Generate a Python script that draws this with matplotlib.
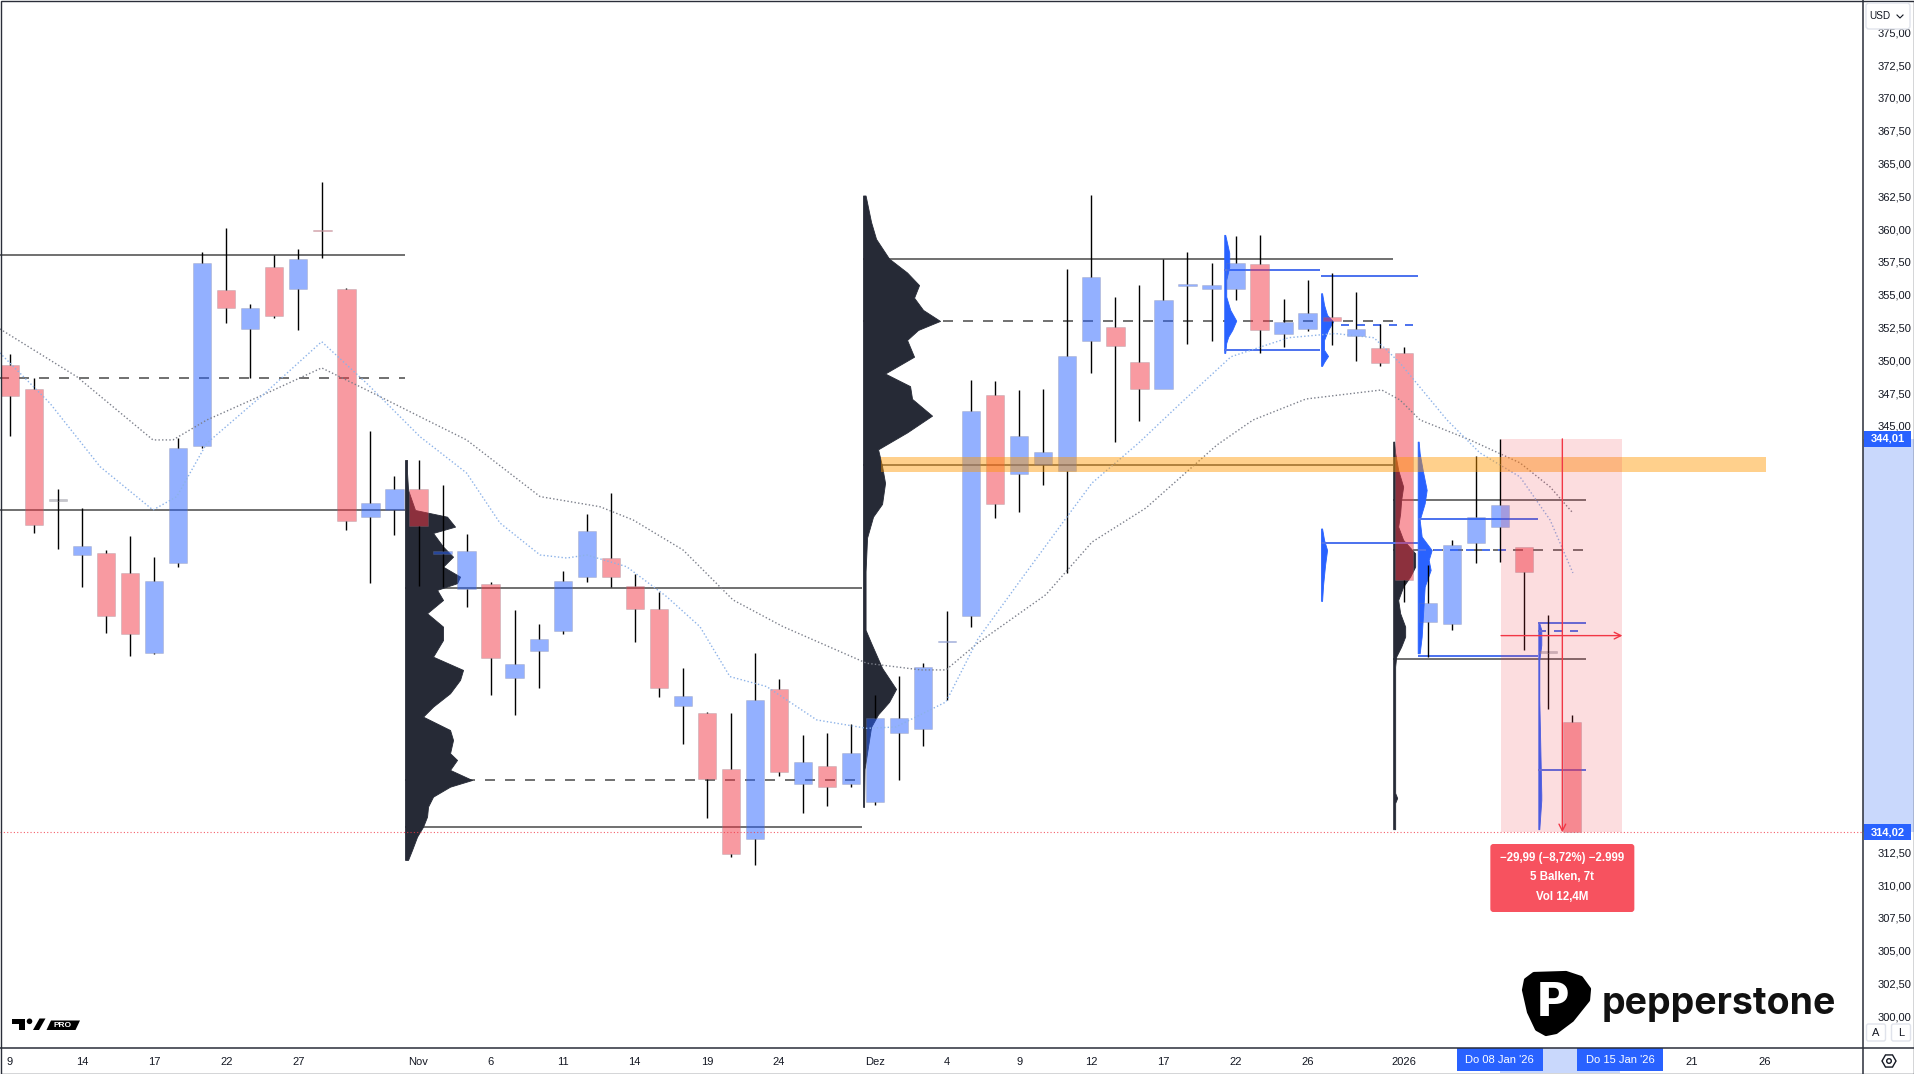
import numpy as np
import matplotlib
matplotlib.use("Agg")
import matplotlib.pyplot as plt
from matplotlib.patches import Rectangle, FancyBboxPatch, Polygon, Circle, RegularPolygon

plt.rcParams['font.family'] = ['Liberation Sans', 'DejaVu Sans']

W, H, DPI = 1914, 1074, 100

# ---------------- data ----------------
opens = [349.64, 347.79, 339.27, 335.16, 335.29, 333.77, 327.67, 334.53, 343.47, 355.36,
         352.37, 357.09, 355.41, 359.90, 355.41, 338.08, 338.59, 340.17, 335.20, 332.57,
         332.93, 325.77, 327.87, 329.39, 333.51, 334.91, 332.82, 331.02, 323.68, 323.10,
         318.83, 313.52, 324.93, 317.71, 319.10, 317.71, 316.34, 321.63, 321.89, 328.50,
         330.48, 347.32, 341.35, 341.99, 341.55, 351.46, 352.52, 349.86, 347.80, 355.68,
         355.41, 355.47, 357.33, 352.04, 352.36, 353.28, 351.88, 350.96, 350.54, 330.03,
         329.88, 336.10, 337.27, 335.75, 327.70, 322.46]
highs = [350.49, 348.63, 340.17, 338.72, 335.54, 336.61, 335.03, 344.06, 358.28, 360.06,
         354.30, 358.03, 358.49, 363.57, 355.50, 344.61, 341.18, 342.40, 340.50, 336.74,
         333.13, 330.97, 329.90, 333.94, 338.29, 339.91, 333.69, 332.37, 326.53, 323.22,
         323.14, 327.72, 325.71, 321.44, 321.57, 322.28, 324.50, 325.90, 326.92, 330.86,
         348.51, 348.41, 347.71, 347.80, 356.92, 362.56, 354.86, 355.73, 357.72, 358.23,
         357.43, 359.51, 359.58, 354.67, 356.15, 356.66, 355.23, 352.77, 351.04, 334.40,
         336.31, 342.71, 344.01, 335.79, 330.58, 322.97]
lows = [344.26, 336.86, 335.60, 332.70, 329.20, 327.49, 327.60, 334.23, 343.30, 352.82,
        348.68, 353.25, 352.31, 357.78, 337.07, 333.05, 336.69, 332.82, 332.75, 331.22,
        324.49, 322.97, 325.00, 329.12, 333.13, 332.75, 328.55, 324.36, 320.76, 315.14,
        312.17, 311.54, 318.32, 315.52, 316.05, 317.50, 316.11, 318.04, 320.60, 324.07,
        329.68, 337.98, 338.47, 340.49, 333.75, 349.05, 343.79, 345.40, 347.80, 351.24,
        351.49, 354.60, 350.53, 351.01, 352.20, 351.19, 349.97, 349.59, 331.60, 327.41,
        329.45, 334.58, 334.65, 327.92, 323.44, 314.02]
closes = [347.30, 337.45, 339.27, 335.85, 330.54, 329.12, 333.18, 343.30, 357.40, 353.97,
          353.97, 353.40, 357.70, 359.82, 337.75, 339.10, 340.17, 337.37, 335.45, 335.47,
          327.29, 326.83, 328.74, 333.18, 336.99, 333.51, 331.02, 325.00, 324.42, 318.07,
          312.35, 324.11, 318.65, 319.41, 317.46, 320.05, 322.75, 322.75, 326.63, 328.62,
          346.17, 339.05, 344.24, 342.99, 350.34, 356.31, 351.08, 347.80, 354.57, 355.78,
          355.73, 357.40, 352.29, 352.94, 353.64, 353.02, 352.39, 349.82, 333.27, 331.48,
          335.93, 338.04, 338.97, 333.84, 327.70, 314.02]

x_tick_bars = [0, 3, 6, 9, 12, 17, 20, 23, 26, 29, 32, 36, 39, 42, 45, 48, 51, 54, 58, 64, 70, 73]
x_tick_labels = ['9', '14', '17', '22', '27', 'Nov', '6', '11', '14', '19', '24', 'Dez', '4', '9',
                 '12', '17', '22', '26', '2026', '12', '21', '26']
y_ticks = [300.0, 302.5, 305.0, 307.5, 310.0, 312.5, 315.0, 317.5, 320.0, 322.5, 325.0, 327.5,
           330.0, 332.5, 335.0, 337.5, 340.0, 342.5, 345.0, 347.5, 350.0, 352.5, 355.0, 357.5,
           360.0, 362.5, 365.0, 367.5, 370.0, 372.5, 375.0]
y_tick_labels = ['300,00', '302,50', '305,00', '307,50', '310,00', '312,50', '315,00', '317,50',
                 '320,00', '322,50', '325,00', '327,50', '330,00', '332,50', '335,00', '337,50',
                 '340,00', '342,50', '345,00', '347,50', '350,00', '352,50', '355,00', '357,50',
                 '360,00', '362,50', '365,00', '367,50', '370,00', '372,50', '375,00']

# moving averages (bar position, value)
ma_slow_bars = [-0.42, 2.78, 5.95, 6.78, 8.19, 10.68, 12.97, 14.84, 17.06, 19.0, 22.06, 24.55,
                25.93, 28.01, 30.09, 32.17, 35.65, 37.91, 38.95, 40.28, 43.11, 45.03, 47.27,
                50.23, 51.73, 53.93, 57.08, 57.84, 58.68, 60.76, 62.84, 64.09, 65.04]
ma_slow_vals = [352.39, 348.75, 343.93, 343.93, 345.45, 347.49, 349.42, 347.74, 345.70, 343.93,
                339.61, 338.84, 337.83, 335.54, 331.73, 329.70, 326.91, 326.40, 326.40, 328.46,
                332.14, 336.15, 338.74, 343.55, 345.45, 347.05, 347.74, 346.98, 345.45, 343.93,
                342.18, 340.35, 338.36]
ma_fast_bars = [-0.42, 1.66, 3.75, 5.95, 6.94, 8.19, 10.68, 12.97, 14.84, 17.06, 19.0, 20.39,
                22.06, 23.17, 24.0, 25.66, 27.33, 28.71, 29.96, 31.49, 33.57, 35.65, 36.86,
                38.95, 40.28, 42.06, 43.99, 45.03, 46.97, 48.73, 50.81, 53.21, 55.14, 56.76,
                57.84, 59.8, 61.17, 62.84, 64.09, 65.04]
ma_fast_vals = [350.56, 346.73, 341.89, 338.59, 339.61, 343.68, 347.61, 351.42, 348.25, 344.18,
                341.41, 337.60, 335.16, 334.93, 335.16, 334.27, 331.98, 329.70, 325.89, 325.13,
                322.59, 321.95, 322.05, 323.96, 328.76, 333.26, 338.08, 340.65, 343.70, 346.75,
                350.27, 351.72, 352.04, 351.72, 349.80, 345.45, 342.94, 341.11, 337.83, 333.79]

# fixed-range volume profiles (start bar, price rows, relative volume)
vp_nov_start = 16.44
vp_nov_prices = [342.40, 341.41, 340.12, 338.59, 338.08, 337.32, 336.84, 335.80, 335.03, 334.27,
                 333.51, 333.01, 332.50, 331.73, 330.72, 329.70, 328.68, 327.41, 326.40, 325.64,
                 324.62, 323.60, 322.84, 321.82, 321.06, 320.05, 319.54, 318.78, 318.01, 317.50,
                 316.74, 315.98, 315.22, 314.45, 313.69, 312.68, 311.92]
vp_nov_vols = [2, 2, 3, 10, 42, 50, 28, 38, 48, 38, 55, 52, 32, 38, 22, 38, 38, 28, 58, 55,
               45, 28, 18, 45, 48, 45, 52, 45, 67, 45, 28, 23, 22, 18, 12, 7, 3]
vp_dec_start = 35.5
vp_dec_prices = [362.56, 360.54, 359.25, 357.75, 356.69, 355.73, 354.77, 353.84, 353.00, 352.31,
                 351.55, 350.27, 348.99, 348.03, 347.06, 345.78, 344.50, 343.21, 341.93, 340.65,
                 339.05, 338.08, 336.48, 333.91, 329.45, 328.46, 326.55, 324.95, 323.96, 323.01,
                 322.05, 318.85, 315.96]
vp_dec_vols = [2.5, 8, 13, 26, 44, 56, 51, 60, 77, 55, 44, 51, 22, 47, 49, 69, 44, 15, 19, 22,
               19, 10, 4, 2.5, 2.5, 8, 19, 33, 26, 15, 8, 1.5, 1]
vp_jan_start = 57.56
vp_jan_prices = [343.80, 342.94, 341.64, 340.37, 339.35, 338.34, 337.32, 336.31, 335.29, 334.27,
                 333.51, 332.75, 331.73, 330.72, 329.70, 328.94, 328.17, 327.41, 326.65, 323.60,
                 317.02, 316.64, 316.26, 314.26]
vp_jan_vols = [1, 2, 5, 10, 8, 7, 5, 10, 22, 22, 17, 10, 5, 7, 12, 12, 8, 3, 2, 2, 2, 4, 2, 2]

# session volume profiles (blue)
bp_a_start = 50.53
bp_a_prices = [359.56, 358.19, 357.12, 356.13, 354.85, 353.84, 353.02, 352.31, 351.80, 351.32, 350.56]
bp_a_vols = [1, 5, 5, 2, 2, 6, 12, 8, 4, 2, 1]
bp_b_start = 54.56
bp_b_prices = [355.11, 354.22, 353.46, 352.95, 352.31, 351.55, 350.79, 350.33, 349.87, 349.57]
bp_b_vols = [1, 3, 6, 12, 7, 3, 3, 7, 3, 1]
bp_c_start = 54.56
bp_c_prices = [337.18, 336.31, 335.54, 334.40, 332.87, 331.66]
bp_c_vols = [1, 3, 6, 4, 2, 1]
bp_d_start = 58.58
bp_d_prices = [343.80, 342.91, 341.64, 340.12, 339.10, 337.83, 336.56, 335.54, 334.78, 334.02,
               332.75, 331.48, 330.21, 328.94, 327.67]
bp_d_vols = [1, 2, 5, 9, 7, 2, 4, 14, 11, 13, 7, 6, 5, 4, 2]
bp_e_start = 63.6
bp_e_prices = [329.96, 329.45, 328.30, 327.16, 324.11, 316.87, 316.49, 314.26]
bp_e_vols = [1, 3, 3, 1, 1, 3, 3, 1]

# profile levels: (price, from bar, to bar, dashed?)
gray_levels = [(358.03, -1, 16.44, False), (348.68, -1, 16.44, True), (338.59, -1, 16.44, False),
               (332.67, 16.44, 35.46, False), (318.01, 16.44, 35.46, True), (314.41, 16.44, 35.46, False),
               (357.75, 35.5, 57.54, False), (353.00, 35.5, 57.54, True), (342.02, 35.5, 57.54, False),
               (339.32, 57.56, 65.58, False), (335.51, 57.56, 65.58, True), (327.20, 57.56, 65.58, False)]
blue_levels = [(356.89, 50.53, 54.53, False), (350.79, 50.53, 54.53, False),
               (356.43, 54.56, 58.58, False), (352.72, 55.4, 58.58, True),
               (336.10, 54.56, 58.58, False),
               (337.93, 58.58, 63.58, False), (327.49, 58.58, 63.6, False), (335.51, 58.6, 62.4, True),
               (329.96, 63.6, 65.58, False), (329.39, 63.6, 65.58, True), (318.80, 63.6, 65.58, False)]

zone_low, zone_high = 341.45, 342.63
zone_from, zone_to = 36.25, 73.08
last_price = 314.02
measure_from_bar, measure_to_bar = 62.05, 67.1
measure_high, measure_low = 344.01, 314.02
measure_lines = ['\u221229,99 (\u22128,72%) \u22122.999', '5 Balken, 7t', 'Vol 12,4M']
date_tags = [(62, "Do 08 Jan '26"), (67, "Do 15 Jan '26")]

# ---------------- figure ----------------
fig = plt.figure(figsize=(W / DPI, H / DPI), dpi=DPI, facecolor='white')
ax = fig.add_axes([0, 27 / H, 1862 / W, 1047 / H])
ax.set_facecolor('white')
ax.set_xlim(-0.416, 77.07)
ax.set_ylim(297.66, 377.46)
for s in ax.spines.values():
    s.set_visible(False)

GRAY = '#737373'
BLUEL = '#4f74ee'
PX = 1.0 / 24.03  # bar units per pixel of profile width

# level lines
for p, a, b, dashed in gray_levels:
    ax.hlines(p, a, b, color=GRAY, lw=1.44, linestyles=(0, (5, 5)) if dashed else 'solid', zorder=2)
for p, a, b, dashed in blue_levels:
    ax.hlines(p, a, b, color=BLUEL, lw=1.44, linestyles=(0, (4, 4)) if dashed else 'solid', zorder=2.6)


def profile(start, prices, vols, color, z):
    pr = np.array(prices)
    v = np.array(vols) * PX
    ax.fill_betweenx(pr, start, start + v, color=color, lw=0.6, edgecolor=color, zorder=z)


profile(vp_nov_start, vp_nov_prices, vp_nov_vols, '#262a36', 2.5)
profile(vp_dec_start, vp_dec_prices, vp_dec_vols, '#262a36', 2.5)
profile(vp_jan_start, vp_jan_prices, vp_jan_vols, '#262a36', 2.5)
for st, pr, vo in [(bp_a_start, bp_a_prices, bp_a_vols), (bp_b_start, bp_b_prices, bp_b_vols),
                   (bp_c_start, bp_c_prices, bp_c_vols), (bp_d_start, bp_d_prices, bp_d_vols),
                   (bp_e_start, bp_e_prices, bp_e_vols)]:
    profile(st, pr, vo, '#2962ff', 2.5)

# candles
o = np.array(opens); h = np.array(highs); l = np.array(lows); c = np.array(closes)
idx = np.arange(len(o))
top = np.maximum(o, c); bot = np.minimum(o, c)
hgt = np.maximum(top - bot, 0.14)
cols = []
for oo, cc in zip(o, c):
    if cc > oo:
        cols.append((41 / 255, 98 / 255, 1.0, 0.5))
    elif cc < oo:
        cols.append((242 / 255, 54 / 255, 69 / 255, 0.5))
    else:
        cols.append((0.55, 0.55, 0.6, 0.5))
ax.bar(idx, hgt, bottom=bot, width=0.76, color=cols, edgecolor=(0.5, 0.5, 0.55, 0.25), lw=0.7, zorder=3)
ax.vlines(idx, top, h, color='black', lw=1.0, zorder=3.1)
ax.vlines(idx, l, bot, color='black', lw=1.0, zorder=3.1)

# moving averages
ax.plot(ma_slow_bars, ma_slow_vals, color='#7b7f8a', lw=1.0, ls=(0, (1, 1.6)), zorder=3.5)
ax.plot(ma_fast_bars, ma_fast_vals, color='#8cb2e8', lw=1.0, ls=(0, (1, 1.6)), zorder=3.5)

# orange zone
ax.add_patch(Rectangle((zone_from, zone_low), zone_to - zone_from, zone_high - zone_low,
                       facecolor='#ff9800', alpha=0.45, lw=0, zorder=4))

# last price dotted line
ax.axhline(last_price, color='#f23645', lw=0.8, ls=(0, (1, 2)), alpha=0.8, zorder=4)

# measurement
ax.add_patch(Rectangle((measure_from_bar, measure_low), measure_to_bar - measure_from_bar,
                       measure_high - measure_low, facecolor='#f23645', alpha=0.17, lw=0, zorder=4.5))
vx = 64.6
ax.annotate('', xy=(vx, measure_low), xytext=(vx, measure_high),
            arrowprops=dict(arrowstyle='->', color='#f23645', lw=1.0, shrinkA=0, shrinkB=0,
                            mutation_scale=12), zorder=5)
mid_p = (measure_high + measure_low) / 2
ax.annotate('', xy=(measure_to_bar, mid_p), xytext=(measure_from_bar, mid_p),
            arrowprops=dict(arrowstyle='->', color='#f23645', lw=1.0, shrinkA=0, shrinkB=0,
                            mutation_scale=12), zorder=5)

# ticks
ax.yaxis.tick_right()
ax.set_yticks(y_ticks)
ax.set_yticklabels(y_tick_labels)
ax.set_xticks(x_tick_bars)
ax.set_xticklabels(x_tick_labels)
ax.tick_params(axis='y', length=0, pad=11, labelsize=8, labelcolor='#131722')
ax.tick_params(axis='x', length=0, pad=7.5, labelsize=8, labelcolor='#131722')

# ---------------- overlay (pixel coords) ----------------
ui = fig.add_axes([0, 0, 1, 1], zorder=10)
ui.set_xlim(0, W); ui.set_ylim(H, 0); ui.axis('off'); ui.patch.set_alpha(0)


def to_px(bar, price):
    X, Y = ax.transData.transform((bar, price))
    return X, H - Y


# measurement label
lx0, ly0 = to_px(vx, measure_low)
ui.add_patch(FancyBboxPatch((lx0 - 72, 844), 144, 68, boxstyle='round,pad=0,rounding_size=3',
                            fc='#f7525f', ec='none'))
for k, t in enumerate(measure_lines):
    ui.text(lx0, 858 + k * 19.5, t, color='white', fontsize=8.3, ha='center', va='center',
            fontweight='bold')

# price axis band + tags
_, yh = to_px(0, measure_high)
_, yl = to_px(0, measure_low)
ui.add_patch(Rectangle((1863, yh), 51, yl - yh, fc='#c9d8fc', ec='none'))
for p, yy in [(measure_high, yh), (measure_low, yl)]:
    ui.add_patch(Rectangle((1864, yy - 8), 47, 16, fc='#2962ff', ec='none'))
    ui.text(1887.5, yy, ('%.2f' % p).replace('.', ','), color='white', fontsize=8, fontweight='bold',
            ha='center', va='center')

# time axis band + tags
xa, _ = to_px(date_tags[0][0], 0)
xb, _ = to_px(date_tags[1][0], 0)
ui.add_patch(Rectangle((xa, 1048), xb - xa, 25, fc='#c9d8fc', ec='none', zorder=1))
for b, t in date_tags:
    xx, _ = to_px(b, 0)
    ui.add_patch(Rectangle((xx - 43, 1048), 86, 23, fc='#2962ff', ec='none', zorder=2))
    ui.text(xx, 1060, t, color='white', fontsize=8, ha='center', va='center', zorder=3)

# borders
ui.plot([1862.5, 1862.5], [0, H], color='#2a2e39', lw=1.1)
ui.plot([0, W], [1047.5, 1047.5], color='#2a2e39', lw=1.1)
ui.add_patch(Rectangle((0.5, 0.5), W - 1, H - 1, fill=False, ec='#2a2e39', lw=1.0))

# USD button
ui.add_patch(FancyBboxPatch((1866, 3), 44, 26, boxstyle='round,pad=0,rounding_size=3',
                            fc='white', ec='#e0e3eb', lw=1))
ui.text(1880, 16, 'USD', fontsize=7.2, ha='center', va='center', color='#131722')
ui.plot([1897, 1900, 1903], [15, 18, 15], color='#131722', lw=0.8)

# A / L buttons
for bx, t in [(1866.5, 'A'), (1891.5, 'L')]:
    ui.add_patch(FancyBboxPatch((bx, 1024), 19, 17, boxstyle='round,pad=0,rounding_size=2',
                                fc='white', ec='#e0e3eb', lw=1))
    ui.text(bx + 9.5, 1033, t, fontsize=8, ha='center', va='center', color='#131722')

# gear icon
ui.add_patch(RegularPolygon((1889, 1061), 6, radius=7, orientation=np.pi / 6, fill=False,
                            ec='#131722', lw=1.0))
ui.add_patch(Circle((1889, 1061), 2.3, fill=False, ec='#131722', lw=1.0))

# TradingView logo
ui.add_patch(Rectangle((11.5, 1018.5), 13.5, 5, fc='black', ec='none'))
ui.add_patch(Rectangle((18.5, 1018.5), 6.5, 11.5, fc='black', ec='none'))
ui.add_patch(Circle((29.5, 1021.3), 2.8, fc='black', ec='none'))
ui.add_patch(Polygon([(33, 1030), (39.5, 1018.5), (45.5, 1018.5), (39, 1030)], closed=True,
                     fc='black', ec='none'))
ui.add_patch(Polygon([(46.5, 1030), (51, 1020.5), (80, 1020.5), (75.5, 1030)], closed=True,
                     fc='black', ec='none'))
ui.text(63, 1025.5, 'PRO', color='white', fontsize=6, fontweight='bold', ha='center', va='center')

# Pepperstone logo
pick = [(1526, 980), (1534, 974), (1566, 973), (1581, 978), (1589, 989), (1588, 1000),
        (1572, 1020), (1556, 1032), (1546, 1034), (1537, 1029), (1529, 1012), (1524, 990)]
ui.add_patch(Polygon(pick, closed=True, fc='black', ec='black', lw=3, joinstyle='round'))
ui.text(1553, 1004, 'P', color='white', fontsize=33, fontweight='heavy', ha='center', va='center',
        family=['DejaVu Sans'])
ui.text(1602, 1014, 'pepperstone', color='#111111', fontsize=27, fontweight='bold', ha='left',
        va='baseline', family=['Inter', 'DejaVu Sans'])

fig.savefig('out.png', dpi=DPI, facecolor='white')
